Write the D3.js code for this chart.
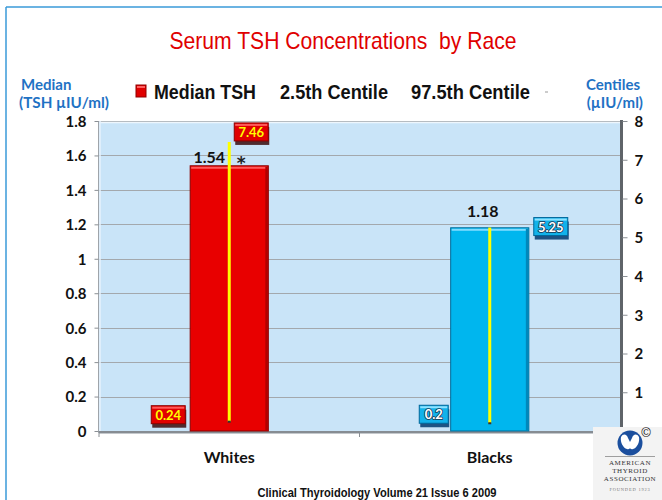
<!DOCTYPE html>
<html><head><meta charset="utf-8">
<script src="https://cdn.jsdelivr.net/npm/d3@7"></script>
<style>
html,body{margin:0;padding:0;background:#fff;}
svg{display:block;}
</style></head>
<body>
<svg id="chart" width="662" height="500"></svg>
<script>
// ---- data ----
const categories = ["Whites", "Blacks"];
const medianTSH = [1.54, 1.18];
const centile2_5 = [0.24, 0.2];
const centile97_5 = [7.46, 5.25];
const medianLabels = ["1.54", "1.18"];
const leftTicks = [0, 0.2, 0.4, 0.6, 0.8, 1, 1.2, 1.4, 1.6, 1.8];
const rightTicks = [0, 1, 2, 3, 4, 5, 6, 7, 8];
const legendItems = ["Median TSH", "2.5th Centile", "97.5th Centile"];
const titleText = "Serum TSH Concentrations  by Race";
const footerText = "Clinical Thyroidology Volume 21 Issue 6 2009";

const svg = d3.select("#chart");
const X0 = 99, X1 = 620, YT = 121, YB = 431;
const x = d3.scaleBand().domain(categories).range([X0, X1]).padding(0);
const yL = d3.scaleLinear().domain([0, 1.8]).range([YB, YT]);
const yR = d3.scaleLinear().domain([0, 8]).range([YB, YT]);

const narrow = "'Liberation Sans Narrow','Arial Narrow','Liberation Sans',Arial,sans-serif";
const calib = "Lato,'Open Sans',sans-serif";

// frame
svg.append("line").attr("x1", 6).attr("x2", 6).attr("y1", 7).attr("y2", 500).attr("stroke", "#3a9ad9").attr("stroke-width", 1.5);
svg.append("line").attr("x1", 6).attr("x2", 662).attr("y1", 7).attr("y2", 7).attr("stroke", "#3a9ad9").attr("stroke-width", 1.5);

// title
svg.append("text").attr("x", 343).attr("y", 49).attr("text-anchor", "middle")
  .attr("font-family", narrow).attr("font-size", 24).attr("fill", "#e00000")
  .attr("textLength", 347).attr("lengthAdjust", "spacingAndGlyphs")
  .style("white-space", "pre").text(titleText);

// axis titles
const blue = "#1f72c4";
svg.append("text").attr("x", 21).attr("y", 90).attr("font-family", calib).attr("font-weight", "bold").attr("font-size", 15).attr("fill", blue).text("Median");
svg.append("text").attr("x", 19).attr("y", 108).attr("font-family", calib).attr("font-weight", "bold").attr("font-size", 15).attr("fill", blue)
  .attr("textLength", 90).attr("lengthAdjust", "spacingAndGlyphs").text("(TSH µIU/ml)");
svg.append("text").attr("x", 640).attr("y", 90).attr("text-anchor", "end").attr("font-family", calib).attr("font-weight", "bold").attr("font-size", 15).attr("fill", blue).text("Centiles");
svg.append("text").attr("x", 643).attr("y", 108).attr("text-anchor", "end").attr("font-family", calib).attr("font-weight", "bold").attr("font-size", 15).attr("fill", blue).text("(µIU/ml)");

// legend
const lg = svg.append("g");
lg.append("rect").attr("x", 136).attr("y", 85).attr("width", 10).attr("height", 12).attr("fill", "#e00000").attr("stroke", "#900000");
lg.append("rect").attr("x", 137).attr("y", 86).attr("width", 8).attr("height", 2).attr("fill", "#ff6060");
const legX = [154, 280, 411], legW = [102, 108, 119];
legendItems.forEach((t, i) => {
  lg.append("text").attr("x", legX[i]).attr("y", 99).attr("font-family", narrow).attr("font-weight", "bold")
    .attr("font-size", 21).attr("fill", "#111").attr("textLength", legW[i]).attr("lengthAdjust", "spacingAndGlyphs").text(t);
});
lg.append("line").attr("x1", 545).attr("x2", 548).attr("y1", 92).attr("y2", 92).attr("stroke", "#999");

// plot background
svg.append("rect").attr("x", X0).attr("y", YT).attr("width", X1 - X0).attr("height", YB - YT).attr("fill", "#c9e4f8");

// gridlines
svg.append("g").selectAll("line").data(leftTicks.filter(d => d > 0)).join("line")
  .attr("x1", X0).attr("x2", X1).attr("y1", d => Math.round(yL(d)) + 0.5).attr("y2", d => Math.round(yL(d)) + 0.5)
  .attr("stroke", "#a3a8ad").attr("stroke-width", 1);

// 3D edges
svg.append("line").attr("x1", X0 + 1).attr("x2", X1).attr("y1", YT + 1.5).attr("y2", YT + 1.5).attr("stroke", "#eef6fd").attr("stroke-width", 1.5);
svg.append("line").attr("x1", X0 - 0.5).attr("x2", X0 - 0.5).attr("y1", YT).attr("y2", YB + 2).attr("stroke", "#9ea4aa").attr("stroke-width", 1);
svg.append("line").attr("x1", X0 + 1).attr("x2", X0 + 1).attr("y1", YT).attr("y2", YB).attr("stroke", "#e6f2fc").attr("stroke-width", 1.5);
svg.append("line").attr("x1", X1 + 1.5).attr("x2", X1 + 1.5).attr("y1", YT - 1).attr("y2", YB + 2).attr("stroke", "#5f6469").attr("stroke-width", 3);
svg.append("line").attr("x1", X0).attr("x2", X1 + 3).attr("y1", YB + 1).attr("y2", YB + 1).attr("stroke", "#868c92").attr("stroke-width", 2);
svg.append("line").attr("x1", X0).attr("x2", X1 + 3).attr("y1", YB + 2.5).attr("y2", YB + 2.5).attr("stroke", "#c4c8cc").attr("stroke-width", 1);

// left axis
const axL = svg.append("g").attr("transform", `translate(${X0 - 0.5},0)`)
  .call(d3.axisLeft(yL).tickValues(leftTicks).tickSize(4).tickFormat(d3.format("~g")));
axL.select(".domain").remove();
axL.selectAll(".tick line").attr("stroke", "#8a8f94");
axL.selectAll(".tick text").attr("x", -12).attr("dy", "0.36em").attr("font-family", calib).attr("font-weight", "bold").attr("font-size", 15).attr("fill", "#111");

// right axis (its "0" label is hidden behind the logo in the reference)
const axR = svg.append("g").attr("transform", `translate(${X1 + 2.5},0)`)
  .call(d3.axisRight(yR).tickValues(rightTicks).tickSize(5).tickFormat(d => d === 0 ? "" : d3.format("d")(d)));
axR.select(".domain").remove();
axR.selectAll(".tick line").attr("stroke", "#8a8f94");
axR.selectAll(".tick text").attr("x", 12).attr("dy", "0.36em").attr("font-family", calib).attr("font-weight", "bold").attr("font-size", 15).attr("fill", "#111");

// bottom axis ticks & labels
const bt = [X0, X0 + x.bandwidth(), X1];
svg.append("g").selectAll("line").data(bt).join("line")
  .attr("x1", d => d).attr("x2", d => d).attr("y1", YB + 2).attr("y2", YB + 6).attr("stroke", "#8a8f94");
svg.append("g").selectAll("text").data(categories).join("text")
  .attr("x", d => x(d) + x.bandwidth() / 2).attr("y", 463).attr("text-anchor", "middle")
  .attr("font-family", calib).attr("font-weight", "bold").attr("font-size", 16).attr("fill", "#111").text(d => d);

// bars
const barW = x.bandwidth() * 0.3;
const fills = ["#e80000", "#00b6ee"], strokes = ["#8a0000", "#006b99"], hi = ["#ff5a5a", "#7fdcff"], shade = ["#b00000", "#0088bb"];
const bars = svg.append("g").selectAll("g").data(categories).join("g");
bars.append("rect")
  .attr("x", d => x(d) + x.bandwidth() / 2 - barW / 2).attr("width", barW)
  .attr("y", (d, i) => yL(medianTSH[i])).attr("height", (d, i) => YB - yL(medianTSH[i]))
  .attr("fill", (d, i) => fills[i]).attr("stroke", (d, i) => strokes[i]).attr("stroke-width", 1);
bars.append("rect")
  .attr("x", d => x(d) + x.bandwidth() / 2 - barW / 2 + 1).attr("width", barW - 2)
  .attr("y", (d, i) => yL(medianTSH[i]) + 1).attr("height", 2).attr("fill", (d, i) => hi[i]);
bars.append("rect")
  .attr("x", d => x(d) + x.bandwidth() / 2 + barW / 2 - 3).attr("width", 2.5)
  .attr("y", (d, i) => yL(medianTSH[i]) + 1).attr("height", (d, i) => YB - yL(medianTSH[i]) - 1).attr("fill", (d, i) => shade[i]);

// centile range lines (yellow)
bars.append("line")
  .attr("x1", d => x(d) + x.bandwidth() / 2).attr("x2", d => x(d) + x.bandwidth() / 2)
  .attr("y1", (d, i) => yR(centile97_5[i])).attr("y2", (d, i) => yR(centile2_5[i]))
  .attr("stroke", "#ffff00").attr("stroke-width", 3);
bars.append("rect")
  .attr("x", d => x(d) + x.bandwidth() / 2 - 1.5).attr("width", 3)
  .attr("y", (d, i) => yR(centile2_5[i]) - 1).attr("height", 2).attr("fill", "#333");

// median value labels
const mlDx = [-20, -7], mlDy = [-3, -11];
bars.append("text")
  .attr("x", (d, i) => x(d) + x.bandwidth() / 2 + mlDx[i]).attr("y", (d, i) => yL(medianTSH[i]) + mlDy[i])
  .attr("text-anchor", "middle").attr("font-family", calib).attr("font-weight", "bold").attr("font-size", 16).attr("fill", "#111")
  .text((d, i) => medianLabels[i]);
svg.append("text").attr("x", x(categories[0]) + x.bandwidth() / 2 + 12).attr("y", yL(medianTSH[0]) + 3)
  .attr("text-anchor", "middle").attr("font-family", "'DejaVu Sans',sans-serif").attr("font-weight", "bold").attr("font-size", 17).attr("fill", "#222").text("*");

// centile label boxes
function labelBox(cx, cy, txt, i) {
  const w = txt.length > 3 ? 34 : 29, h = 18;
  const g = svg.append("g");
  const boxFill = ["#e00000", "#12b2ea"], boxStroke = ["#8c0000", "#00679a"], shadowF = ["#3a0a0a", "#003a6e"], topHi = ["#ff5a5a", "#8fe2ff"];
  g.append("rect").attr("x", cx - w / 2 + 1).attr("y", cy - h / 2 + 4).attr("width", w).attr("height", h).attr("fill", shadowF[i]).attr("opacity", 0.85);
  g.append("rect").attr("x", cx - w / 2).attr("y", cy - h / 2).attr("width", w).attr("height", h)
    .attr("fill", boxFill[i]).attr("stroke", boxStroke[i]).attr("stroke-width", 1);
  g.append("rect").attr("x", cx - w / 2 + 1).attr("y", cy - h / 2 + 1).attr("width", w - 2).attr("height", 2).attr("fill", topHi[i]);
  const t = g.append("text").attr("x", cx).attr("y", cy + 5).attr("text-anchor", "middle")
    .attr("font-family", calib).attr("font-weight", "bold").attr("font-size", 13).text(txt);
  if (i === 0) t.attr("fill", "#ffff00");
  else t.attr("fill", "#fff").attr("stroke", "#1a3550").attr("stroke-width", 1.6).attr("paint-order", "stroke");
}
const lowDx = [-61, -56], lowDy = [-7, -9];
const highDx = [22, 61], highDy = [-10, -1];
categories.forEach((c, i) => {
  const cx = x(c) + x.bandwidth() / 2;
  labelBox(cx + lowDx[i], yR(centile2_5[i]) + lowDy[i], String(centile2_5[i]), i);
  labelBox(cx + highDx[i], yR(centile97_5[i]) + highDy[i], String(centile97_5[i]), i);
});

// footer
svg.append("text").attr("x", 377).attr("y", 497).attr("text-anchor", "middle")
  .attr("font-family", narrow).attr("font-weight", "bold").attr("font-size", 13).attr("fill", "#111")
  .attr("textLength", 239).attr("lengthAdjust", "spacingAndGlyphs").text(footerText);

// logo
const logo = svg.append("g");
logo.append("rect").attr("x", 593).attr("y", 427).attr("width", 69).attr("height", 73).attr("fill", "#f3f3f3");
logo.append("circle").attr("cx", 630).attr("cy", 443).attr("r", 12.5).attr("fill", "#1b4f9e");
logo.append("path").attr("d", "M621,437 C623,433 627,434 628,438 L630,442 L632,438 C633,434 637,433 639,437 C640,442 637,448 633,449 C631,450 630,448 630,448 C630,448 629,450 627,449 C623,448 620,442 621,437 Z").attr("fill", "#fff");
logo.append("line").attr("x1", 605).attr("x2", 655).attr("y1", 456.5).attr("y2", 456.5).attr("stroke", "#888").attr("stroke-width", 0.8);
const lt = ["AMERICAN", "THYROID", "ASSOCIATION"];
lt.forEach((t, i) => logo.append("text").attr("x", 630).attr("y", 465 + i * 8).attr("text-anchor", "middle")
  .attr("font-family", "'Liberation Serif','DejaVu Serif',serif").attr("font-size", 7).attr("letter-spacing", 0.6).attr("fill", "#333").text(t));
logo.append("text").attr("x", 630).attr("y", 491).attr("text-anchor", "middle")
  .attr("font-family", "'Liberation Serif',serif").attr("font-size", 4.5).attr("letter-spacing", 0.8).attr("fill", "#777").text("FOUNDED 1923");
logo.append("text").attr("x", 646).attr("y", 437).attr("text-anchor", "middle").attr("font-family", "'Liberation Sans',Arial,sans-serif").attr("font-size", 13).attr("fill", "#111").text("©");
</script>
</body></html>
